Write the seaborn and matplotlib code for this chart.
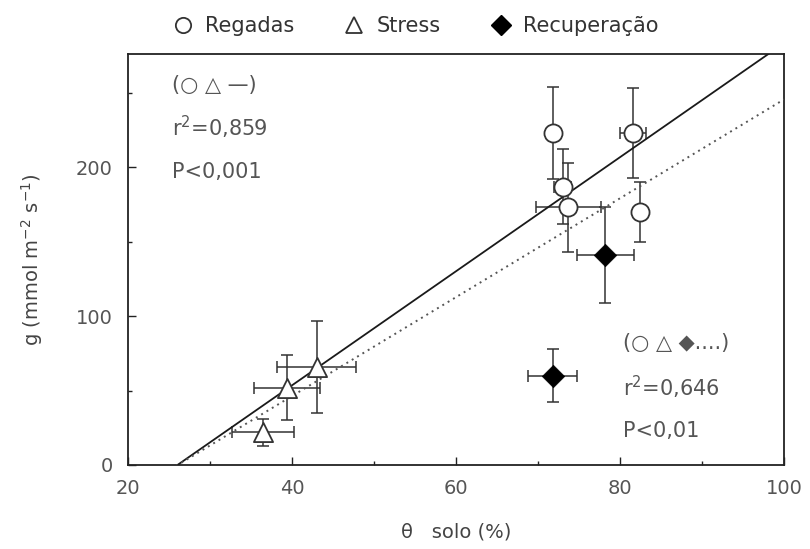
import numpy as np
import pandas as pd
import matplotlib
matplotlib.use("Agg")
import matplotlib.pyplot as plt
from matplotlib.lines import Line2D
from matplotlib.ticker import MultipleLocator
import seaborn as sns

# ---- data ----
reg_x = [71.8, 81.6, 73.0, 73.7, 82.4]
reg_y = [223, 223, 187, 173, 170]
reg_xerr = [0.0, 1.6, 1.0, 4.0, 0.0]
reg_yerr = [31, 30, 25, 30, 20]

str_x = [36.5, 39.4, 43.0]
str_y = [22, 52, 66]
str_xerr = [3.8, 4.0, 4.8]
str_yerr = [9, 22, 31]

rec_x = [78.2, 71.8]
rec_y = [141, 60]
rec_xerr = [3.5, 3.0]
rec_yerr = [32, 18]

# regression lines (slope, intercept)
fit1 = (3.83, -99.7)   # solid: O, triangle
fit2 = (3.32, -86.5)   # dotted: O, triangle, diamond
fit_x = [20, 100]

legend_labels = ["Regadas", "Stress", "Recuperação"]
note1 = ["(○ △ —)", "r$^2$=0,859", "P<0,001"]
note2 = ["(○ △ ◆....)", "r$^2$=0,646", "P<0,01"]

sns.set_theme(style="ticks")
plt.rcParams['font.family'] = ['DejaVu Sans']

fig = plt.figure(figsize=(8.1, 5.49), dpi=100)
ax = fig.add_axes([128/810, 1 - 465/549, (784-128)/810, (465-54)/549])

ecol = "#333333"
for xs, ys, xe, ye in [(reg_x, reg_y, reg_xerr, reg_yerr),
                       (str_x, str_y, str_xerr, str_yerr),
                       (rec_x, rec_y, rec_xerr, rec_yerr)]:
    ax.errorbar(xs, ys, xerr=xe, yerr=ye, fmt="none", ecolor=ecol,
                elinewidth=1.1, capsize=4, capthick=1.1, zorder=2)

# regression lines
def line_df(fit):
    xs = np.array(fit_x, dtype=float)
    ys = fit[0] * xs + fit[1]
    return pd.DataFrame({"x": xs, "y": ys})

sns.lineplot(data=line_df(fit1), x="x", y="y", ax=ax, color="#1a1a1a",
             linewidth=1.3, zorder=3)
d2 = line_df(fit2)
ax.plot(d2["x"], d2["y"], color="#555555", linewidth=1.4,
        linestyle=(0, (1, 2.2)), zorder=3)

sns.scatterplot(x=reg_x, y=reg_y, ax=ax, marker="o", s=170,
                facecolor="white", edgecolor="#333333", linewidth=1.3, zorder=4)
sns.scatterplot(x=str_x, y=str_y, ax=ax, marker="^", s=190,
                facecolor="white", edgecolor="#333333", linewidth=1.3, zorder=4)
sns.scatterplot(x=rec_x, y=rec_y, ax=ax, marker="D", s=130,
                color="black", edgecolor="black", linewidth=0.5, zorder=4)

ax.set_xlim(20, 100)
ax.set_ylim(0, 276)
ax.xaxis.set_major_locator(MultipleLocator(20))
ax.xaxis.set_minor_locator(MultipleLocator(10))
ax.yaxis.set_major_locator(MultipleLocator(100))
ax.yaxis.set_minor_locator(MultipleLocator(50))
ax.tick_params(which="both", direction="in", top=False, right=False,
               colors="#222222", labelcolor="#555555", labelsize=14)
ax.tick_params(which="major", length=6, width=1)
ax.tick_params(which="minor", length=3, width=1)
ax.tick_params(axis="x", which="major", pad=10)
ax.tick_params(axis="y", which="major", pad=11)
for sp in ax.spines.values():
    sp.set_visible(True)
    sp.set_color("#222222")
    sp.set_linewidth(1.3)

ax.set_xlabel("θ   solo (%)", fontsize=14, color="#444444", labelpad=18)
ax.set_ylabel("g (mmol m$^{-2}$ s$^{-1}$)", fontsize=14, color="#444444", labelpad=22)

tcol = "#555555"
for txt, yy in zip(note1, [255, 227, 197]):
    ax.text(25.4, yy, txt, fontsize=15, color=tcol, va="center", ha="left")
for txt, yy in zip(note2, [82, 52, 23]):
    ax.text(80.4, yy, txt, fontsize=15, color=tcol, va="center", ha="left")

handles = [
    Line2D([], [], marker="o", linestyle="none", markerfacecolor="white",
           markeredgecolor="#333333", markersize=11, markeredgewidth=1.3),
    Line2D([], [], marker="^", linestyle="none", markerfacecolor="white",
           markeredgecolor="#333333", markersize=11, markeredgewidth=1.3),
    Line2D([], [], marker="D", linestyle="none", color="black", markersize=10),
]
fig.legend(handles, legend_labels, loc="center", bbox_to_anchor=(410/810, 1 - 26/549),
           ncol=3, frameon=False, fontsize=15, handletextpad=0.05,
           columnspacing=1.9, labelcolor="#333333")

fig.savefig("out.png", dpi=100)
